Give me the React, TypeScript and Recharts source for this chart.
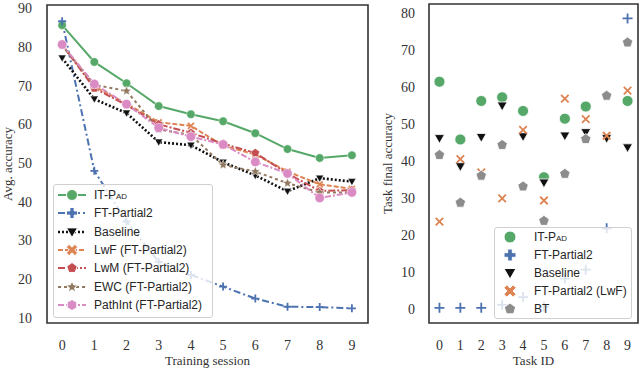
import React from 'react';
import {
  LineChart, Line, ScatterChart, Scatter, XAxis, YAxis, ReferenceArea, Legend,
} from 'recharts';

// left panel: average accuracy per training session
const sessions = [0, 1, 2, 3, 4, 5, 6, 7, 8, 9];
const itPadAvg = [85.6, 76.1, 70.6, 64.7, 62.6, 60.8, 57.7, 53.6, 51.3, 52.0];
const ftPartial2Avg = [86.6, 48.0, 34.9, 24.5, 21.1, 18.1, 15.0, 12.9, 12.8, 12.5];
const baselineAvg = [77.1, 66.5, 62.9, 55.4, 54.6, 50.2, 46.8, 42.7, 46.1, 45.2];
const lwfAvg = [80.5, 69.8, 65.3, 60.5, 59.6, 54.5, 52.2, 47.8, 44.5, 43.3];
const lwmAvg = [80.5, 69.3, 65.0, 60.0, 57.8, 55.0, 52.6, 47.3, 42.8, 43.0];
const ewcAvg = [80.3, 70.2, 68.6, 58.7, 57.2, 49.5, 47.8, 44.8, 42.4, 42.4];
const pathIntAvg = [80.6, 70.4, 65.2, 59.1, 56.8, 54.8, 50.3, 47.3, 41.0, 42.4];
const avgTicks = [10, 20, 30, 40, 50, 60, 70, 80, 90];

// right panel: final accuracy per task
const taskIds = [0, 1, 2, 3, 4, 5, 6, 7, 8, 9];
const itPadTask = [61.4, 45.8, 56.2, 57.2, 53.5, 35.6, 51.4, 54.7, null, 56.2];
const ftPartial2Task = [0.3, 0.3, 0.3, 1.1, 3.2, 0.6, 8.2, 10.6, 21.8, 78.5];
const baselineTask = [46.1, 38.5, 46.4, 54.9, 46.6, 34.1, 46.8, 47.7, 46.1, 43.6];
const lwfTask = [23.6, 40.5, 36.9, 29.9, 48.4, 29.3, 56.8, 51.3, 46.8, 59.0];
const btTask = [41.6, 28.7, 36.0, 44.3, 33.1, 23.8, 36.5, 45.9, 57.6, 72.0];
const taskTicks = [0, 10, 20, 30, 40, 50, 60, 70, 80];

const GREEN = '#55A868';
const BLUE = '#4C72B0';
const ORANGE = '#DD8452';
const RED = '#C44E52';
const BROWN = '#937860';
const PINK = '#DA8BC3';
const GRAY = '#8C8C8C';

const SERIF = '"Liberation Serif", "DejaVu Serif", serif';
const SANS = '"Liberation Sans", Arial, sans-serif';
const INK = '#333';

const avgData = sessions.map((s, i) => ({
  session: s,
  itPad: itPadAvg[i],
  ft: ftPartial2Avg[i],
  baseline: baselineAvg[i],
  lwf: lwfAvg[i],
  lwm: lwmAvg[i],
  ewc: ewcAvg[i],
  pathInt: pathIntAvg[i],
}));

const toPoints = (vals: (number | null)[]) =>
  taskIds.map((t, i) => ({ task: t, acc: vals[i] })).filter((p) => p.acc !== null);

const polygon = (cx: number, cy: number, n: number, r: number, rot: number, inner?: number) => {
  const pts: string[] = [];
  const count = inner ? n * 2 : n;
  for (let k = 0; k < count; k++) {
    const rr = inner && k % 2 === 1 ? inner : r;
    const a = rot + (k * 2 * Math.PI) / count;
    pts.push(`${cx + rr * Math.sin(a)},${cy - rr * Math.cos(a)}`);
  }
  return pts.join(' ');
};

const crossPath = (cx: number, cy: number, s: number, w: number, rot: number) => {
  const h = s / 2;
  const t = w / 2;
  const base = [
    [-t, -h], [t, -h], [t, -t], [h, -t], [h, t], [t, t],
    [t, h], [-t, h], [-t, t], [-h, t], [-h, -t], [-t, -t],
  ];
  const c = Math.cos(rot);
  const sn = Math.sin(rot);
  return base.map(([x, y]) => `${cx + x * c - y * sn},${cy + x * sn + y * c}`).join(' ');
};

type MarkerKind = 'circle' | 'plus' | 'plusFilled' | 'x' | 'xFilled' | 'triDown' | 'pentagon' | 'star' | 'hexagon';

const Marker = ({ kind, cx, cy, s, color, ew = 0.8 }: {
  kind: MarkerKind; cx: number; cy: number; s: number; color: string; ew?: number;
}) => {
  if (cx == null || cy == null) return null;
  const h = s / 2;
  const edge = { stroke: '#fff', strokeWidth: ew };
  switch (kind) {
    case 'circle':
      return <circle cx={cx} cy={cy} r={h} fill={color} {...edge} />;
    case 'plus':
      return <path d={`M${cx - h},${cy}H${cx + h}M${cx},${cy - h}V${cy + h}`} stroke={color} strokeWidth={1.8} fill="none" />;
    case 'x':
      return <path d={`M${cx - h * 0.75},${cy - h * 0.75}L${cx + h * 0.75},${cy + h * 0.75}M${cx - h * 0.75},${cy + h * 0.75}L${cx + h * 0.75},${cy - h * 0.75}`} stroke={color} strokeWidth={1.8} fill="none" />;
    case 'plusFilled':
      return <polygon points={crossPath(cx, cy, s, s / 2.6, 0)} fill={color} {...edge} />;
    case 'xFilled':
      return <polygon points={crossPath(cx, cy, s * 1.1, s / 2.8, Math.PI / 4)} fill={color} {...edge} />;
    case 'triDown':
      return <polygon points={`${cx - h},${cy - h * 0.75} ${cx + h},${cy - h * 0.75} ${cx},${cy + h}`} fill={color} {...edge} />;
    case 'pentagon':
      return <polygon points={polygon(cx, cy, 5, h, 0)} fill={color} {...edge} />;
    case 'star':
      return <polygon points={polygon(cx, cy, 5, h * 1.1, 0, h * 0.5)} fill={color} {...edge} />;
    case 'hexagon':
      return <polygon points={polygon(cx, cy, 6, h, 0)} fill={color} {...edge} />;
    default:
      return null;
  }
};

const dotOf = (kind: MarkerKind, color: string, s: number) => (props: any) => (
  <Marker key={`d-${props.index}`} kind={kind} cx={props.cx} cy={props.cy} s={s} color={color} ew={0.5} />
);

const shapeOf = (kind: MarkerKind, color: string, s: number) => (props: any) => (
  <Marker kind={kind} cx={props.cx} cy={props.cy} s={s} color={color} ew={0.8} />
);

const lineSeries = [
  { key: 'itPad', name: 'IT-Pad', color: GREEN, dash: undefined, marker: 'circle' as MarkerKind, plot: 'circle' as MarkerKind, size: 8.5, width: 2 },
  { key: 'ft', name: 'FT-Partial2', color: BLUE, dash: '7 3 2 3', marker: 'plusFilled' as MarkerKind, plot: 'plus' as MarkerKind, size: 8, width: 2 },
  { key: 'baseline', name: 'Baseline', color: '#111', dash: '2 2', marker: 'triDown' as MarkerKind, plot: 'triDown' as MarkerKind, size: 8, width: 2.6 },
  { key: 'lwf', name: 'LwF (FT-Partial2)', color: ORANGE, dash: '5 2', marker: 'xFilled' as MarkerKind, plot: 'x' as MarkerKind, size: 8, width: 2 },
  { key: 'lwm', name: 'LwM (FT-Partial2)', color: RED, dash: '7 2 2 2', marker: 'pentagon' as MarkerKind, plot: 'pentagon' as MarkerKind, size: 9, width: 2 },
  { key: 'ewc', name: 'EWC (FT-Partial2)', color: BROWN, dash: '3 3', marker: 'star' as MarkerKind, plot: 'star' as MarkerKind, size: 9, width: 2 },
  { key: 'pathInt', name: 'PathInt (FT-Partial2)', color: PINK, dash: '6 2 2 2', marker: 'hexagon' as MarkerKind, plot: 'circle' as MarkerKind, size: 9.5, width: 2 },
];

const scatterSeries = [
  { name: 'IT-Pad', color: GREEN, marker: 'circle' as MarkerKind, plot: 'circle' as MarkerKind, size: 11, vals: itPadTask },
  { name: 'FT-Partial2', color: BLUE, marker: 'plusFilled' as MarkerKind, plot: 'plus' as MarkerKind, size: 10, vals: ftPartial2Task },
  { name: 'Baseline', color: '#111', marker: 'triDown' as MarkerKind, plot: 'triDown' as MarkerKind, size: 10, vals: baselineTask },
  { name: 'FT-Partial2 (LwF)', color: ORANGE, marker: 'xFilled' as MarkerKind, plot: 'x' as MarkerKind, size: 10, vals: lwfTask },
  { name: 'BT', color: GRAY, marker: 'pentagon' as MarkerKind, plot: 'pentagon' as MarkerKind, size: 11, vals: btTask },
];

const Label = ({ text }: { text: string }) =>
  text === 'IT-Pad' ? <span style={{ fontVariant: 'small-caps' }}>IT-Pad</span> : <span>{text}</span>;

const legendBox: React.CSSProperties = {
  background: 'rgba(255,255,255,0.8)',
  border: '1px solid #d0d0d0',
  borderRadius: 3,
  fontFamily: SANS,
  fontSize: 12,
  color: '#262626',
  boxSizing: 'border-box',
};

const LineLegend = () => (
  <div style={{ ...legendBox, width: 160, padding: '1px 0 3px 0' }}>
    {lineSeries.map((s) => (
      <div key={s.key} style={{ height: 18.3, display: 'flex', alignItems: 'center' }}>
        <svg width={28} height={18} style={{ marginLeft: 4, marginRight: 8 }}>
          <line x1={0} y1={9} x2={28} y2={9} stroke={s.color} strokeWidth={s.width} strokeDasharray={s.dash} />
          <Marker kind={s.marker} cx={14} cy={9} s={11} color={s.color} ew={1} />
        </svg>
        <Label text={s.name} />
      </div>
    ))}
  </div>
);

const ScatterLegend = () => (
  <div style={{ ...legendBox, width: 138, padding: 0 }}>
    {scatterSeries.map((s) => (
      <div key={s.name} style={{ height: 18, display: 'flex', alignItems: 'center' }}>
        <svg width={30} height={18} style={{ marginRight: 9 }}>
          <Marker kind={s.marker} cx={15} cy={9} s={12} color={s.color} ew={1} />
        </svg>
        <Label text={s.name} />
      </div>
    ))}
  </div>
);

const tickStyle = { fill: INK, fontSize: 14, fontFamily: SERIF };

const xTitle = (text: string) => (props: any) => {
  const vb = props.viewBox;
  return (
    <text x={vb.x + vb.width / 2} y={vb.y + vb.height - 6} textAnchor="middle" fill={INK} fontSize={13} fontFamily={SERIF}>
      {text}
    </text>
  );
};

const yTitle = (text: string, x: number) => (props: any) => {
  const vb = props.viewBox;
  const cy = vb.y + vb.height / 2;
  return (
    <text x={x} y={cy} transform={`rotate(-90 ${x} ${cy})`} textAnchor="middle" dominantBaseline="central" fill={INK} fontSize={13} fontFamily={SERIF}>
      {text}
    </text>
  );
};

const AvgChart = () => (
  <LineChart width={372} height={371} data={avgData} margin={{ top: 5, right: 4, bottom: 0, left: 0 }}>
    <XAxis
      type="number" dataKey="session" domain={[-0.47, 9.5]} ticks={sessions} allowDataOverflow
      axisLine={false} tickLine={false} tickSize={0} tickMargin={17} height={48}
      tick={tickStyle} label={xTitle('Training session')}
    />
    <YAxis
      type="number" domain={[8.7, 90.8]} ticks={avgTicks} allowDataOverflow
      axisLine={false} tickLine={false} tickSize={0} tickMargin={15} width={47}
      tick={tickStyle} label={yTitle('Avg. accuracy', 7)}
    />
    <ReferenceArea x1={-0.47} x2={9.5} y1={8.7} y2={90.8} fill="none" stroke={INK} strokeWidth={1.6} />
    {lineSeries.map((s) => (
      <Line
        key={s.key} dataKey={s.key} name={s.name} stroke={s.color} strokeWidth={s.width}
        strokeDasharray={s.dash} dot={dotOf(s.plot, s.color, s.size)} activeDot={false}
        isAnimationActive={false}
      />
    ))}
    <Legend
      layout="horizontal" align="center" verticalAlign="middle"
      wrapperStyle={{ left: 53, top: 184, width: 160 }} content={() => <LineLegend />}
    />
  </LineChart>
);

const TaskChart = () => (
  <ScatterChart width={268} height={371} margin={{ top: 4, right: 2, bottom: 0, left: 0 }}>
    <XAxis
      type="number" dataKey="task" domain={[-0.5, 9.5]} ticks={taskIds} allowDataOverflow
      axisLine={false} tickLine={false} tickSize={0} tickMargin={17} height={48}
      tick={tickStyle} label={xTitle('Task ID')}
    />
    <YAxis
      type="number" dataKey="acc" domain={[-3.8, 82.4]} ticks={taskTicks} allowDataOverflow
      axisLine={false} tickLine={false} tickSize={0} tickMargin={14} width={57}
      tick={tickStyle} label={yTitle('Task final accuracy', 15)}
    />
    <ReferenceArea x1={-0.5} x2={9.5} y1={-3.8} y2={82.4} fill="none" stroke={INK} strokeWidth={1.6} />
    {scatterSeries.map((s) => (
      <Scatter
        key={s.name} name={s.name} data={toPoints(s.vals)} fill={s.color}
        shape={shapeOf(s.plot, s.color, s.size)} isAnimationActive={false}
      />
    ))}
    <Legend
      layout="horizontal" align="center" verticalAlign="middle"
      wrapperStyle={{ left: 122, top: 227, width: 138 }} content={() => <ScatterLegend />}
    />
  </ScatterChart>
);

export default function App() {
  return (
    <div style={{ position: 'absolute', left: 0, top: 0, width: 640, height: 371, background: '#fff' }}>
      <div style={{ position: 'absolute', left: 0, top: 0 }}>
        <AvgChart />
      </div>
      <div style={{ position: 'absolute', left: 372, top: 0 }}>
        <TaskChart />
      </div>
    </div>
  );
}
